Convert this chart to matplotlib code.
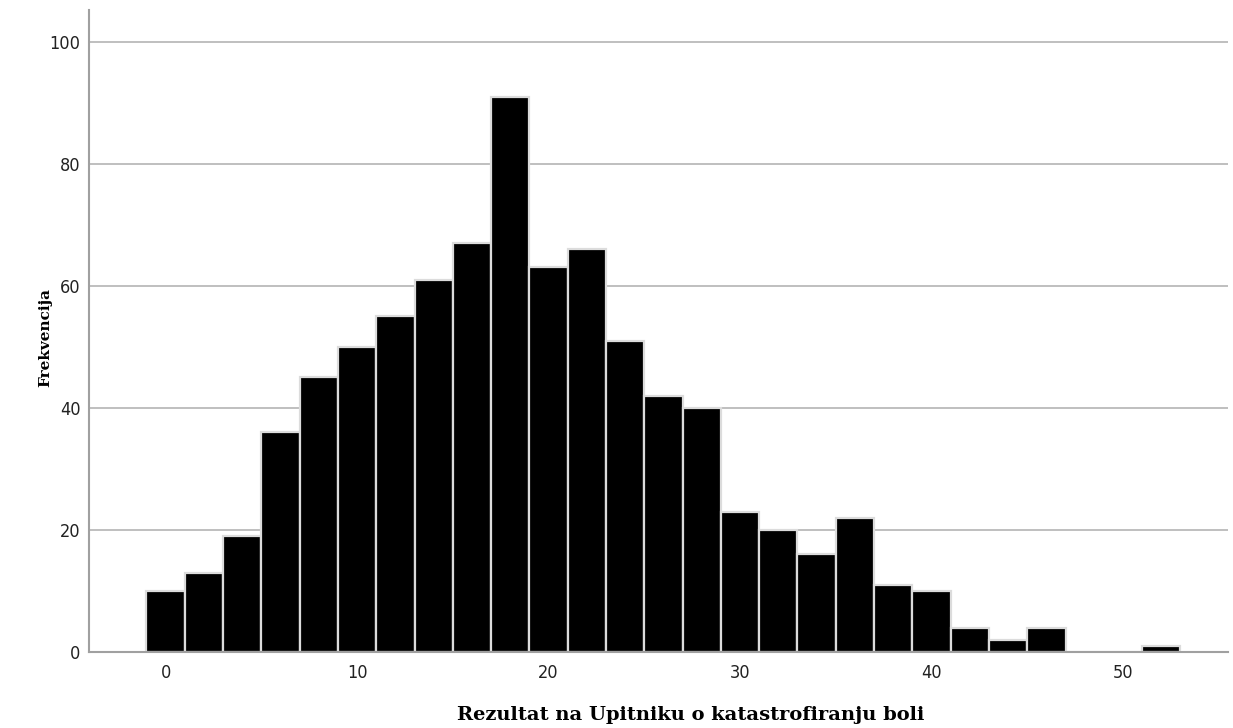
import matplotlib
matplotlib.use("Agg")
import matplotlib.pyplot as plt

# bin centres (width 2) and frequencies
centres = [0, 2, 4, 6, 8, 10, 12, 14, 16, 18, 20, 22, 24, 26, 28,
           30, 32, 34, 36, 38, 40, 42, 44, 46, 48, 50, 52]
counts = [10, 13, 19, 36, 45, 50, 55, 61, 67, 91, 63, 66, 51, 42, 40,
          23, 20, 16, 22, 11, 10, 4, 2, 4, 0, 0, 1]
xticks = [0, 10, 20, 30, 40, 50]
yticks = [0, 20, 40, 60, 80, 100]

tick_font = ['DejaVu Sans']
label_font = ['DejaVu Serif']

fig = plt.figure(figsize=(12.33, 7.28), dpi=100)
ax = fig.add_axes([0.0722, 0.1044, 0.924, 0.882])

for y in yticks[1:]:
    ax.axhline(y, color='#b4b4b4', lw=1.2, zorder=0)

ax.bar(centres, counts, width=2, color='black', edgecolor='#dcdcdc',
       linewidth=1.6, zorder=2)

ax.set_xlim(-4, 55.5)
ax.set_ylim(0, 105.2)
ax.set_xticks(xticks)
ax.set_yticks(yticks)
ax.tick_params(axis='y', length=0, pad=6)
ax.tick_params(axis='x', length=0, pad=9)
for lab in ax.get_xticklabels() + ax.get_yticklabels():
    lab.set_family(tick_font)
    lab.set_fontstretch('condensed')
    lab.set_fontsize(13)
    lab.set_color('#222222')

for s in ['top', 'right']:
    ax.spines[s].set_visible(False)
for s in ['left', 'bottom']:
    ax.spines[s].set_color('#a0a0a0')
    ax.spines[s].set_linewidth(1.5)

fig.text(0.5605, 0.018, 'Rezultat na Upitniku o katastrofiranju boli',
         family=label_font, fontweight='bold', fontsize=14,
         ha='center', va='center')
fig.text(0.0365, 0.537, 'Frekvencija', family=label_font, fontweight='bold',
         fontsize=11, rotation=90, ha='center', va='center')

fig.savefig('out.png', dpi=100)
